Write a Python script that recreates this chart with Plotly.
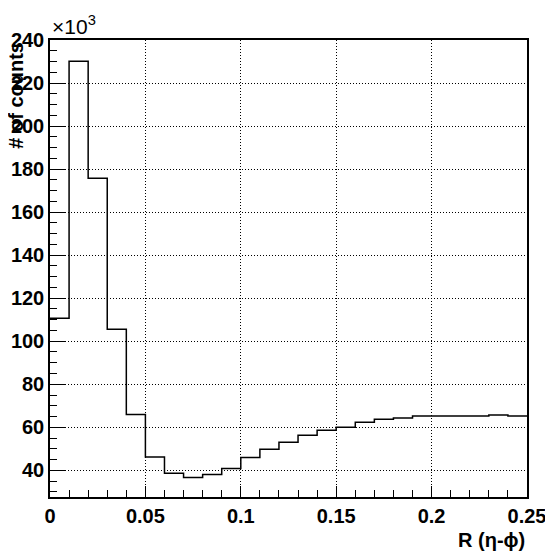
import plotly.graph_objects as go

# Histogram: 25 bins of width 0.01 from 0 to 0.25, counts in units of 10^3
bin_edges = [round(i * 0.01, 2) for i in range(26)]
counts = [110.7, 230.1, 175.7, 105.6, 66.0, 46.2, 38.6, 36.7, 38.1, 40.8,
          46.0, 49.8, 53.0, 56.3, 58.6, 60.0, 62.3, 63.7, 64.3, 65.3,
          65.3, 65.3, 65.3, 65.7, 65.3]
x_ticks = [0, 0.05, 0.1, 0.15, 0.2, 0.25]
x_ticklabels = ["0", "0.05", "0.1", "0.15", "0.2", "0.25"]
y_ticks = [40, 60, 80, 100, 120, 140, 160, 180, 200, 220, 240]

FONT = "Liberation Sans"

step_x = bin_edges
step_y = counts + [counts[-1]]

fig = go.Figure()
fig.add_trace(go.Scatter(
    x=step_x, y=step_y, mode="lines",
    line=dict(shape="hv", color="black", width=1.5),
    showlegend=False, hoverinfo="skip",
))

axis_common = dict(
    showline=True, linecolor="black", linewidth=1.5, mirror=True,
    ticks="inside", tickcolor="black", tickwidth=1,
    showgrid=True, gridcolor="black", gridwidth=1, griddash="1px,2px",
    zeroline=False, automargin=False,
    tickfont=dict(family=FONT, size=20, color="black", weight="bold"),
)

fig.update_xaxes(
    range=[0, 0.25], tickvals=x_ticks, ticktext=x_ticklabels, ticklen=11,
    minor=dict(dtick=0.01, tick0=0, ticks="inside", ticklen=7,
               tickcolor="black", showgrid=False),
    **axis_common,
)
fig.update_yaxes(
    range=[27.6, 240], tickvals=y_ticks, ticklen=15,
    minor=dict(dtick=5, tick0=0, ticks="inside", ticklen=7,
               tickcolor="black", showgrid=False),
    **axis_common,
)

fig.add_annotation(
    text="×10<sup>3</sup>", xref="paper", yref="paper", x=0, y=1.0,
    xanchor="left", yanchor="bottom", showarrow=False, yshift=0,
    font=dict(family=FONT, size=21, color="black"),
)
fig.add_annotation(
    text="# of counts", xref="paper", yref="paper", x=-0.073, y=1.0,
    xanchor="center", yanchor="top", textangle=-90, showarrow=False,
    font=dict(family=FONT, size=20, color="black", weight="bold"),
)
fig.add_annotation(
    text="R (η-ϕ)", xref="paper", yref="paper", x=1.0, y=-0.094,
    xanchor="right", yanchor="middle", showarrow=False,
    font=dict(family=FONT, size=20, color="black", weight="bold"),
)

# page body has an 8px default margin, so the figure is sized to fit
fig.update_layout(
    width=545, height=547,
    margin=dict(l=42, r=26, t=32, b=58),
    paper_bgcolor="white", plot_bgcolor="white",
)

fig.write_html("out.html")
